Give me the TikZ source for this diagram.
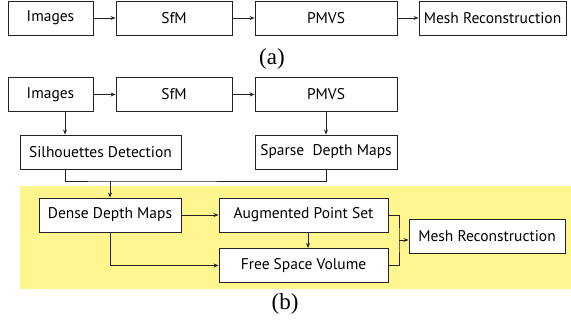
\documentclass[tikz,border=0pt]{standalone}
\usepackage{fontspec}
\setmainfont{Liberation Serif}
\newfontfamily\boxfont{PT Sans}
\usetikzlibrary{arrows.meta}
\definecolor{lineC}{RGB}{35,35,35}
\definecolor{hilite}{RGB}{255,246,143}
\tikzset{
  box/.style={draw=lineC, line width=0.9pt, fill=white, minimum height=34pt, inner sep=0pt, font=\boxfont\fontsize{15.5}{16}\selectfont, text=black},
  arr/.style={draw=lineC, line width=0.9pt, -{Stealth[length=5pt,width=4pt]}},
  ln/.style={draw=lineC, line width=0.9pt},
  figlabel/.style={font=\fontsize{23}{24}\selectfont}
}
\begin{document}
\begin{tikzpicture}[x=1pt,y=-1pt]
\useasboundingbox (0,0) rectangle (571,327);
\fill[hilite] (20,186) rectangle (571,289);
% (a)
\node[box, minimum width=85pt] (a1) at (50.5,18) {Images};
\node[box, minimum width=116pt] (a2) at (174,18) {SfM};
\node[box, minimum width=142pt] (a3) at (326,18) {PMVS};
\node[box, minimum width=147pt] (a4) at (492.5,18) {Mesh Reconstruction};
\draw[arr] (a1) -- (a2);
\draw[arr] (a2) -- (a3);
\draw[arr] (a3) -- (a4);
\node[figlabel] (la) at (272,59) {(a)};
% (b)
\node[box, minimum width=85pt] (b1) at (50.5,94.5) {Images};
\node[box, minimum width=116pt] (b2) at (174,94.5) {SfM};
\node[box, minimum width=142pt] (b3) at (326,94.5) {PMVS};
\node[box, minimum width=161pt] (sil) at (100.5,152) {Silhouettes Detection};
\node[box, minimum width=142pt] (sp) at (326,152) {Sparse\ \ Depth Maps};
\node[box, minimum width=142pt] (dn) at (110,215) {Dense Depth Maps};
\node[box, minimum width=169pt] (au) at (303.5,215) {Augmented Point Set};
\node[box, minimum width=169pt] (fr) at (303.5,265.5) {Free Space Volume};
\node[box, minimum width=156pt] (me) at (487,236) {Mesh Reconstruction};
\draw[arr] (b1) -- (b2);
\draw[arr] (b2) -- (b3);
\coordinate (c1) at (65,0);
\draw[arr] (b1.south -| c1) -- (sil.north -| c1);
\draw[arr] (b3) -- (sp);
\coordinate (m) at (110,181);
\draw[ln] (sil.south -| c1) |- (m) -| (sp.south);
\draw[arr] (m) -- (dn.north);
\draw[arr] (dn) -- (au);
\draw[arr] (dn.south) |- (fr.west);
\coordinate (c2) at (308,0);
\draw[arr] (au.south -| c2) -- (fr.north -| c2);
\coordinate (j) at (399,240);
\draw[ln] (au.east) -| (j) |- (fr.east);
\draw[arr] (j) -- (me.west |- j);
\node[figlabel] (lb) at (285,304) {(b)};
\end{tikzpicture}
\end{document}
